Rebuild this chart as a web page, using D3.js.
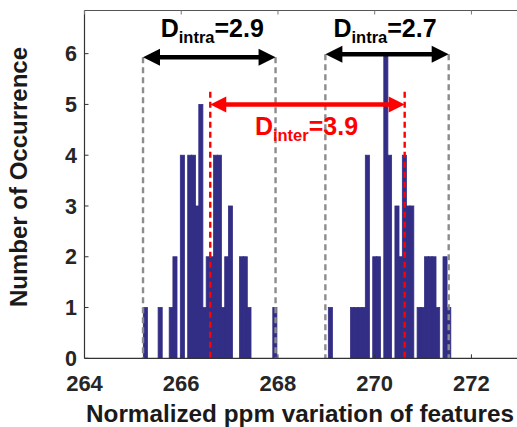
<!DOCTYPE html>
<html><head><meta charset="utf-8">
<script src="https://cdn.jsdelivr.net/npm/d3@7"></script>
<style>body{margin:0;background:#fff}svg{display:block}</style>
</head><body>
<script>
// ---- data ----
const binWidth = 0.0765;
const binLeft = [265.216,265.522,265.751,265.828,265.981,266.134,266.210,266.287,266.363,266.440,266.516,266.593,266.669,266.746,266.822,266.899,266.975,267.205,267.281,267.358,267.893,
                 269.041,269.500,269.576,269.653,269.729,269.806,269.959,270.035,270.188,270.265,270.418,270.494,270.571,270.647,270.724,270.877,270.953,271.030,271.106,271.183,271.259,271.412,271.489];
const counts  = [1,1,1,2,4,4,4,3,5,1,2,2,4,4,1,2,3,2,2,1,1,
                 1,1,1,1,1,4,2,2,6,4,3,2,4,3,3,1,1,2,2,2,1,2,1];
const xTicks = [264,266,268,270,272];
const yTicks = [0,1,2,3,4,5,6];
const intraLines = [265.21, 267.95, 268.98, 271.53];
const interLines = [266.60, 270.62];
const intraArrows = [{x0:265.21,x1:267.95,y:5.93,val:"2.9"},{x0:268.98,x1:271.53,y:5.99,val:"2.7"}];
const interArrow = {x0:266.60,x1:270.62,y:5.0,val:"3.9"};
const xLabel = "Normalized ppm variation of features";
const yLabel = "Number of Occurrence";

// ---- layout ----
const W=517,H=427;
const FONT="'Liberation Sans', Arial, Helvetica, sans-serif";
const x=d3.scaleLinear().domain([264,273]).range([84.5,519.8]);
const y=d3.scaleLinear().domain([0,6.85]).range([358.3,10.5]);
const svg=d3.select("body").append("svg").attr("width",W).attr("height",H)
  .style("font-family",FONT);

// bars
svg.append("g").selectAll("rect").data(binLeft).join("rect")
  .attr("x",d=>x(d)).attr("width",d=>x(d+binWidth)-x(d)+0.4)
  .attr("y",(d,i)=>y(counts[i])).attr("height",(d,i)=>y(0)-y(counts[i]))
  .attr("fill","#332e85").attr("stroke","#332e85").attr("stroke-width",0.8);

// gray dashed lines
svg.append("g").selectAll("line").data(intraLines).join("line")
  .attr("x1",d=>x(d)).attr("x2",d=>x(d))
  .attr("y1",(d,i)=>y(intraArrows[i<2?0:1].y)).attr("y2",y(0))
  .attr("stroke","#8c8c8c").attr("stroke-width",2.4).attr("stroke-dasharray","6,4");
// red dashed lines
svg.append("g").selectAll("line").data(interLines).join("line")
  .attr("x1",d=>x(d)).attr("x2",d=>x(d))
  .attr("y1",y(5.25)).attr("y2",y(0))
  .attr("stroke","#ff0000").attr("stroke-width",2.4).attr("stroke-dasharray","6,4");

function arrow(a,color,hl,hw,sw){
  const X0=x(a.x0),X1=x(a.x1),Y=y(a.y);
  const g=svg.append("g");
  g.append("line").attr("x1",X0+hl-2).attr("x2",X1-hl+2).attr("y1",Y).attr("y2",Y)
    .attr("stroke",color).attr("stroke-width",sw);
  g.append("path").attr("d",`M${X0},${Y}L${X0+hl},${Y-hw}L${X0+hl},${Y+hw}Z`).attr("fill",color);
  g.append("path").attr("d",`M${X1},${Y}L${X1-hl},${Y-hw}L${X1-hl},${Y+hw}Z`).attr("fill",color);
}
intraArrows.forEach(a=>arrow(a,"#000",17,8.5,4.5));
arrow(interArrow,"#ff0000",16,8,4.5);

function dlabel(cx,baseY,sub,val,color){
  const t=svg.append("text").attr("x",cx).attr("y",baseY).attr("text-anchor","middle")
    .attr("font-weight","bold").attr("fill",color).attr("font-size",25);
  t.append("tspan").text("D");
  t.append("tspan").attr("dy",6).attr("font-size",16.5).text(sub);
  t.append("tspan").attr("dy",-6).text("="+val);
}
dlabel((x(intraArrows[0].x0)+x(intraArrows[0].x1))/2+3,37,"intra",intraArrows[0].val,"#000");
dlabel((x(intraArrows[1].x0)+x(intraArrows[1].x1))/2-2,37,"intra",intraArrows[1].val,"#000");
dlabel((x(interArrow.x0)+x(interArrow.x1))/2-1,135,"inter",interArrow.val,"#ff0000");

// axes
const axC="#333";
svg.append("line").attr("x1",x(264)).attr("x2",W).attr("y1",y(0)).attr("y2",y(0)).attr("stroke",axC).attr("stroke-width",1.2);
svg.append("line").attr("x1",x(264)).attr("x2",W).attr("y1",y(6.85)).attr("y2",y(6.85)).attr("stroke","#555").attr("stroke-width",1.2);
svg.append("line").attr("x1",x(264)).attr("x2",x(264)).attr("y1",y(0)).attr("y2",y(6.85)).attr("stroke",axC).attr("stroke-width",1.2);
// ticks (inward)
svg.append("g").selectAll("line").data(xTicks).join("line")
  .attr("x1",d=>x(d)).attr("x2",d=>x(d)).attr("y1",y(0)).attr("y2",y(0)-4).attr("stroke",axC);
svg.append("g").selectAll("line").data(xTicks).join("line")
  .attr("x1",d=>x(d)).attr("x2",d=>x(d)).attr("y1",y(6.85)).attr("y2",y(6.85)+4).attr("stroke","#777");
svg.append("g").selectAll("line").data(yTicks).join("line")
  .attr("x1",x(264)).attr("x2",x(264)+4).attr("y1",d=>y(d)).attr("y2",d=>y(d)).attr("stroke",axC);
// tick labels
svg.append("g").selectAll("text").data(xTicks).join("text")
  .attr("x",d=>x(d)).attr("y",391).attr("text-anchor","middle")
  .attr("font-size",22).attr("font-weight","bold").attr("fill","#262626").text(d=>d);
svg.append("g").selectAll("text").data(yTicks).join("text")
  .attr("x",77).attr("y",d=>y(d)).attr("dy","0.36em").attr("text-anchor","end")
  .attr("font-size",21.5).attr("font-weight","bold").attr("fill","#262626").text(d=>d);
// axis titles
svg.append("text").attr("x",300).attr("y",421.5).attr("text-anchor","middle")
  .attr("font-size",24.3).attr("font-weight","bold").attr("fill","#1a1a1a").text(xLabel);
svg.append("text").attr("transform","translate(27,177) rotate(-90)").attr("text-anchor","middle")
  .attr("font-size",24).attr("font-weight","bold").attr("fill","#1a1a1a").text(yLabel);
</script>
</body></html>
